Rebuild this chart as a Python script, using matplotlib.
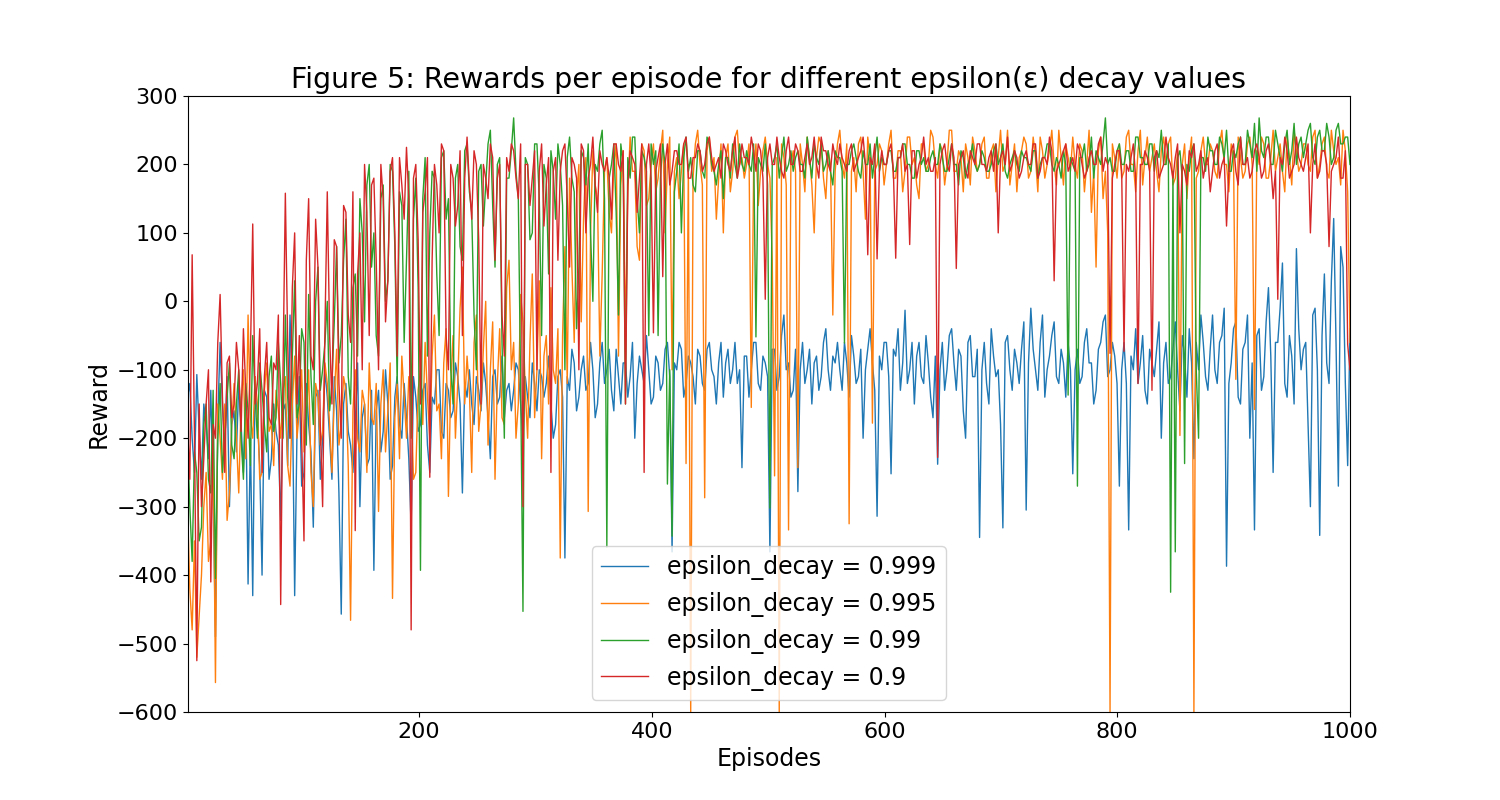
import numpy as np
import matplotlib
matplotlib.use("Agg")
import matplotlib.pyplot as plt

decay_999 = [
    -140, -120, -200, -250, -107, -190, -260, -150, -180, -230, -130, -280, -490, -170, -60, -150, -210, -110, -300, -180,
    -160, -220, -120, -180, -250, -140, -413, -200, -430, -110, -170, -240, -400, -130, -140, -260, -230, -150, -190, -210,
    -320, -160, -150, -240, -20, -130, -430, -190, -110, -270, -250, -120, -180, -220, -330, -140, -130, -260, -200, -100,
    -140, -200, -260, -110, -160, -280, -457, -150, -120, -190, -210, -250, -180, -90, -300, -170, -150, -240, -230, -130,
    -393, -160, -130, -220, -190, -100, -150, -260, -240, -140, -110, -180, -200, -120, -170, -230, -330, -110, -140, -190,
    -180, -130, -120, -210, -250, -140, -150, -100, -100, -190, -200, -120, -130, -170, -160, -90, -110, -150, -280, -120,
    -140, -100, -150, -180, -110, -130, -160, -90, -120, -170, -230, -110, -100, -150, -140, -80, -170, -130, -120, -160,
    -130, -90, -100, -150, -200, -110, -140, -170, -90, -120, -160, -100, -110, -140, -120, -80, -150, -200, -180, -110,
    -100, -140, -375, -110, -130, -70, -90, -160, -140, -100, -80, -130, -120, -60, -100, -170, -150, -90, -60, -120,
    -100, -70, -130, -160, -70, -110, -150, -90, -90, -140, -110, -60, -200, -120, -80, -100, -120, -50, -100, -150,
    -140, -80, -90, -130, -120, -70, -60, -110, -366, -90, -100, -60, -70, -140, -120, -80, -90, -110, -150, -70,
    -80, -120, -130, -70, -60, -100, -110, -150, -90, -60, -140, -90, -70, -120, -100, -60, -120, -100, -243, -80,
    -80, -140, -100, -60, -60, -120, -130, -80, -90, -110, -366, -70, -70, -130, -110, -50, -20, -100, -90, -140,
    -130, -70, -278, -100, -60, -120, -100, -70, -150, -90, -80, -130, -110, -60, -40, -100, -130, -80, -90, -60,
    -100, -130, -60, -90, -140, -50, -80, -120, -110, -70, -200, -100, -70, -40, -90, -130, -314, -80, -100, -60,
    -60, -110, -252, -70, -80, -40, -130, -90, -13, -120, -100, -60, -150, -80, -60, -110, -120, -50, -90, -140,
    -170, -80, -238, -100, -60, -130, -100, -50, -40, -90, -130, -70, -80, -160, -200, -60, -50, -110, -110, -70,
    -345, -100, -60, -120, -150, -40, -80, -110, -100, -180, -331, -60, -50, -100, -130, -70, -90, -120, -70, -30,
    -305, -90, -10, -70, -100, -130, -60, -20, -140, -100, -80, -50, -30, -110, -120, -70, -90, -140, -60, -100,
    -252, -100, -70, -120, -110, -60, -40, -90, -90, -150, -130, -70, -60, -30, -20, -110, -100, -60, -80, -120,
    -270, -100, -60, -120, -334, -80, -100, -40, -120, -90, -50, -130, -150, -70, -90, -110, -70, -30, -200, -90,
    -60, -120, -110, -70, -30, -100, -160, -50, -80, -140, -40, -90, -230, -60, -100, -20, -60, -110, -130, -70,
    -20, -100, -120, -60, -50, -10, -387, -120, -90, -40, -30, -140, -150, -70, -60, -20, -200, -90, -334, -50,
    -40, -130, -110, -30, 20, -80, -250, -60, -60, -10, 56, -120, -140, -50, -80, -150, 77, -40, -100, -70,
    -60, -180, -300, -20, -10, -100, -342, -50, 40, -90, -120, 30, 121, -60, -270, 80, 50, -120, -240, -40,
]
decay_995 = [
    -300, -420, -480, -350, -520, -460, -400, -300, -250, -380, -350, -200, -557, -150, -200, -260, -150, -320, -280, -180,
    -120, -200, -280, -150, -100, -230, -20, -170, -200, -110, -150, -260, -250, -130, -90, -190, -180, -240, -130, -160,
    -200, -130, -110, -240, -270, -150, -80, -200, -160, -100, -220, -170, -100, -250, -300, -120, -140, -210, -190, -90,
    -120, -180, -250, -140, -70, -210, -180, -110, -130, -240, -466, -160, -100, -200, -220, -130, -150, -250, -90, -170,
    -180, -120, -307, -150, -100, -220, -160, -90, -434, -170, -120, -230, -80, -140, -200, -110, -140, -260, -250, -130,
    -100, -180, -60, -140, -200, -80, -20, -160, -150, -230, -90, -40, -285, -120, -50, -200, -120, -10, 50, -150,
    -80, -130, -250, -60, -20, -190, -150, -70, 0, -210, -100, -30, -260, -120, -40, -170, -180, 20, 60, -100,
    -60, -200, -150, 10, -30, -130, -200, -60, 40, -170, -100, 30, -230, -80, -50, -150, 20, -100, -120, -40,
    -375, -50, 80, -120, 180, 50, -60, 150, 200, -30, 120, 210, -307, 100, 220, 170, 150, -80, 40, 190,
    210, 130, 100, 200, 230, -80, 170, 220, -50, 160, 240, 190, 190, 80, 60, 230, 220, 140, 150, 200,
    230, 160, 180, 220, 250, 100, 200, 240, -100, 190, 210, 150, 190, 230, -237, 200, -600, 180, 230, 250,
    200, 170, -287, 220, 240, 190, 210, 120, 180, 230, 100, 210, 230, 160, 190, 240, 250, 200, 210, 180,
    200, 230, -155, 190, 230, 140, 190, 220, 240, 200, 180, 60, -255, 210, -600, 230, 210, 170, -334, 200,
    220, 190, -243, 230, 200, 160, 240, 210, 170, 100, 210, 240, 230, 180, 150, 220, 200, -20, 190, 230,
    250, 200, 180, 230, -325, 190, 210, 160, 230, 240, 190, 120, 240, 210, -178, 190, 200, 230, 220, 170,
    200, 230, 250, 180, 180, 220, 220, 160, 190, 240, 240, 200, 210, 170, 150, 230, 230, 190, 200, 250,
    240, 200, 180, 230, 220, 170, 200, 250, 250, 190, 190, 220, 210, 160, 230, 210, 170, 240, 220, 190,
    200, 230, 240, 180, 180, 220, 230, 160, 210, 250, 190, 200, 250, 170, 200, 230, 160, 210, 220, 240,
    230, 180, 190, 240, 210, 160, 240, 220, 180, 200, 220, 250, 200, 170, 250, 210, 170, 230, 210, 190,
    240, 200, 180, 230, 220, 160, 200, 250, 130, 190, 50, 220, 240, 150, 190, 100, -600, 230, 210, 180,
    230, 180, 190, 240, 250, 200, 200, 160, 220, 250, 170, 210, 240, 190, 210, 230, 190, 160, 220, 240,
    200, 230, 240, 170, 180, 220, -196, 200, 230, 150, 210, 240, -600, 180, 190, 220, 240, 200, 200, 230,
    220, 190, 180, 230, 250, 200, 200, 160, 230, 210, -114, 240, 210, 180, 190, 230, 240, 200, -158, 220,
    200, 240, 230, 180, 180, 210, 250, 190, 210, 230, 190, 160, 240, 210, 170, 250, 220, 190, 200, 230,
    230, 200, 190, 240, 250, 180, 200, 230, 240, 190, 180, 250, 220, 200, 210, 170, 250, 220, 160, -60,
]
decay_99 = [
    -200, -300, -380, -220, -250, -350, -330, -180, -150, -260, -280, -130, -405, -200, -120, -250, -200, -140, -90, -210,
    -230, -150, -100, -200, -260, -120, -160, -240, -50, -140, -200, -90, -130, -180, -220, -110, -80, -190, -170, -60,
    -120, -200, -20, -140, -200, -80, 30, -170, -150, -40, -60, -210, 10, -110, -180, 0, 50, -130, -100, -60,
    0, -160, -120, -30, 80, -90, -50, 60, 120, -110, -150, 20, 40, -80, 150, 100, -30, 170, 200, 50,
    100, -50, -80, 150, 170, 0, 30, 200, 190, 80, -120, 160, 140, -60, 60, 190, -200, 120, 180, 20,
    -393, 150, 210, -80, 100, 190, 180, 40, -50, 210, 220, 120, 150, -100, -150, 180, 200, 80, 60, 220,
    230, 160, 130, -20, -100, 190, 200, 110, 170, 230, 250, 140, 50, 200, 210, -60, -200, 180, 180, 220,
    268, 190, 150, -120, -453, 210, 200, 90, 100, 230, 230, 150, -50, 200, 180, 40, 220, 190, 120, 230,
    200, 140, -100, 210, 240, 180, 160, -40, 50, 220, 210, 170, 230, 100, 0, 200, 190, 230, 250, 150,
    -359, 180, 200, 230, 130, -20, 230, 200, -150, 210, 180, 240, 240, 150, 100, 220, 210, 190, -50, 230,
    200, 220, -50, 180, 230, 200, -267, -100, -343, 160, 190, 230, 100, 210, 240, 190, 210, 170, 160, 220,
    220, 190, 180, 240, 230, 200, 190, 170, 200, 220, 150, 210, 210, 180, 230, 200, 180, 230, 200, 190,
    220, 200, 190, 230, -52, 210, 200, 190, 230, 170, -302, 200, 210, 230, 180, 210, 240, 190, 200, 220,
    190, 210, 220, 200, 200, 180, 240, 210, 180, 230, 210, 200, 230, 190, 200, 220, 190, 170, 220, 210,
    210, 190, -61, 200, 200, 220, 230, 210, 190, 180, 220, 200, 200, 230, 180, 210, 240, 190, 210, 200,
    200, 220, 220, 190, 190, 210, 210, 230, 230, 200, 200, 180, 180, 220, 220, 200, 210, 190, 190, 210,
    220, 200, 200, 230, 210, 190, 190, 210, 230, 200, 200, 170, 220, 210, 180, 200, 210, 230, 200, 190,
    200, 220, 210, 190, 190, 200, 220, 230, 200, 210, 230, 190, 180, 200, 210, 220, 200, 190, 220, 210,
    210, 200, 190, 220, 220, 180, 200, 210, 210, 230, 230, 200, 190, 210, 200, 180, 220, 200, -137, 210,
    200, 190, -270, 210, 210, 230, 190, 200, 240, 180, 220, 210, 200, 230, 268, 200, 210, 190, 190, 220,
    230, 200, 200, 220, 220, 190, 190, 240, 240, 210, 210, 200, 200, 230, 230, 190, 220, 210, 250, 200,
    200, 230, -425, 190, -366, 210, 220, 180, -237, 200, 190, 220, 230, -100, -200, 210, 210, 190, 240, 220,
    220, 200, 200, 240, 230, 210, 250, 190, 190, 220, 210, 230, 240, 200, 200, 250, 230, 210, 260, 190,
    268, 220, 210, 240, 240, 200, 200, 250, 230, 210, 190, 230, 250, 200, 220, 260, 200, 230, 240, 210,
    230, 250, 260, 210, 200, 240, 250, 220, 220, 260, 240, 200, 210, 250, 260, 230, 230, 240, 240, 200,
]
decay_9 = [
    -180, -260, 68, -200, -525, -150, -300, -230, -150, -100, -410, -180, -200, -60, 10, -140, -250, -90, -80, -170,
    -150, -60, -100, -190, -40, -130, -200, -80, 113, -150, -120, -40, -250, -110, -60, -170, -180, -90, -100, -20,
    -443, -100, 158, -60, -200, 20, 100, -150, -50, -200, -350, 60, 150, -80, -100, 120, 50, -180, -300, -40,
    160, -50, -150, 90, 80, -120, -200, 140, 130, -20, -60, 160, -335, 40, 100, -100, 200, 130, -50, 170,
    180, 60, -100, 200, 150, -30, 30, 190, 210, 100, -80, 210, 170, 120, 225, 150, -480, 180, 200, 90,
    -150, 130, 160, 210, -257, 60, 200, 170, 100, 230, 220, -50, -100, 200, 180, 110, 140, 220, -50, 180,
    240, 170, 120, 220, 200, 90, -150, 200, 180, 150, 230, 210, 60, 180, 200, -20, -80, 210, 190, 230,
    220, 180, 150, 230, -300, 200, 200, 140, 180, 220, -100, 190, 230, 110, 170, 210, -250, 190, 210, 60,
    190, 220, 230, 150, 50, 210, 200, 180, -100, 230, 220, 100, 180, 200, 240, 170, 130, 220, 200, 190,
    210, 180, 120, 230, 230, 200, 190, 220, -150, 170, 220, 210, 200, 130, 180, 230, -250, 200, 230, 180,
    -46, 190, 210, 230, 36, 200, 230, 170, 190, 220, 220, 200, 200, 230, 240, 180, 180, 210, 210, 230,
    220, 190, 200, 230, 240, 210, 190, 200, 210, 180, 230, 220, 200, 190, 220, 240, 180, 200, 230, 210,
    210, 200, 240, 220, 190, 230, 220, 180, 3, 210, 230, 200, 200, 240, 210, 190, 180, 220, 240, 200,
    200, 230, 220, 190, 190, 210, 230, 200, 210, 240, 200, 180, 240, 220, 220, 200, 190, 230, 210, 200,
    230, 210, 200, 190, 220, 230, 190, 200, 210, 220, 240, 200, 68, 210, 200, 230, 62, 190, 220, 200,
    200, 220, 230, 190, 63, 210, 210, 230, 190, 200, 83, 220, 220, 180, 200, 210, 240, 200, 210, 190,
    190, 210, -228, 200, 220, 230, 200, 190, 230, 210, 48, 200, 210, 220, 190, 180, 220, 210, 200, 230,
    230, 200, 200, 190, 210, 220, 190, 230, 100, 210, 220, 200, 240, 190, 200, 220, 210, 180, 190, 210,
    220, 200, 200, 230, 230, 180, 190, 210, 210, 200, 240, 220, 30, 190, 200, 210, 220, 230, 190, 200,
    210, 190, 230, 220, 200, 180, 190, 210, 220, 200, 200, 230, 240, 190, 210, 200, -76, 180, 200, 220,
    220, 190, -73, 200, 190, 210, 230, 180, -120, 200, 200, 220, 210, 190, -130, 210, 220, 180, 190, 200,
    240, 210, 200, 180, 210, 230, 100, 200, 190, 170, 220, 210, 230, 190, 200, 220, 180, 200, 210, 160,
    190, 220, 230, 180, 200, 210, 110, 190, 220, 230, 190, 170, 240, 200, 200, 210, 180, 190, 220, 230,
    210, 180, 190, 220, 230, 200, 150, 190, 3, 210, 200, 240, 220, 180, 190, 200, 240, 210, 200, 190,
    210, 230, 100, 200, 230, 180, 190, 220, 220, 200, 80, 190, 200, 210, 240, 180, 180, 220, -63, -100,
]
series_labels = ["epsilon_decay = 0.999", "epsilon_decay = 0.995",
                 "epsilon_decay = 0.99", "epsilon_decay = 0.9"]
episodes = np.linspace(1, 1000, len(decay_999))

plt.rcParams["font.size"] = 16
fig = plt.figure(figsize=(15, 8), dpi=100)
ax = fig.add_axes([0.125, 0.11, 0.775, 0.77])
colors = ["#1f77b4", "#ff7f0e", "#2ca02c", "#d62728"]
for vals, lab, c in zip([decay_999, decay_995, decay_99, decay_9], series_labels, colors):
    ax.plot(episodes, vals, color=c, linewidth=1.0, label=lab)

ax.set_xlim(1, 1000)
ax.set_ylim(-600, 300)
ax.set_xticks([200, 400, 600, 800, 1000])
ax.set_yticks(range(-600, 301, 100))
ax.set_xlabel("Episodes", fontsize=17)
ax.set_ylabel("Reward", fontsize=17)
ax.set_title("Figure 5: Rewards per episode for different epsilon(ε) decay values", fontsize=20.5)
ax.tick_params(labelsize=16)
ax.legend(loc="lower center", fontsize=17)

fig.savefig("out.png", dpi=100)
